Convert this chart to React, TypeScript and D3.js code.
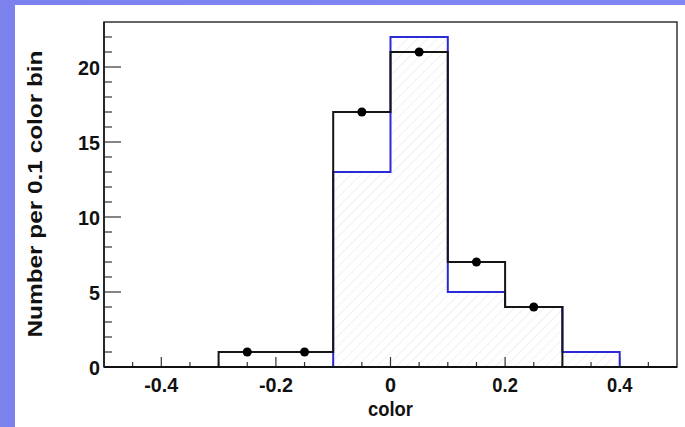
import React from "react";
import * as d3 from "d3";

const binEdges = [-0.5, -0.4, -0.3, -0.2, -0.1, 0, 0.1, 0.2, 0.3, 0.4, 0.5];
const dataCounts = [0, 0, 1, 1, 17, 21, 7, 4, 0, 0];
const modelCounts = [0, 0, 0, 0, 13, 22, 5, 4, 1, 0];
const pointX = [-0.25, -0.15, -0.05, 0.05, 0.15, 0.25];
const pointY = [1, 1, 17, 21, 7, 4];
const xTickLabels = [-0.4, -0.2, 0, 0.2, 0.4];
const yTickLabels = [0, 5, 10, 15, 20];

const W = 685, H = 427;
const L = 104, R = 677, T = 22, B = 367;

function stepPath(x: d3.ScaleLinear<number, number>, y: d3.ScaleLinear<number, number>, counts: number[], from: number, to: number) {
  let d = "";
  for (let i = from; i <= to; i++) {
    const c = counts[i];
    const x0 = x(binEdges[i]), x1 = x(binEdges[i + 1]);
    d += (i === from ? `M${x0},${y(0)}L${x0},${y(c)}` : `L${x0},${y(c)}`) + `L${x1},${y(c)}`;
  }
  d += `L${x(binEdges[to + 1])},${y(0)}`;
  return d;
}

export default function App() {
  const x = d3.scaleLinear().domain([-0.5, 0.5]).range([L, R]);
  const y = d3.scaleLinear().domain([0, 23]).range([B, T]);
  const font = "'Liberation Sans', Arial, sans-serif";

  const xTicks = d3.range(-0.45, 0.5, 0.05).map(v => Math.round(v * 100) / 100);
  const yTicks = d3.range(1, 23, 1);

  const blueArea = stepPath(x, y, modelCounts, 4, 8);
  const blueLine = stepPath(x, y, modelCounts, 2, 8);
  const blackLine = stepPath(x, y, dataCounts, 0, 9);

  return (
    <svg width={W} height={H} style={{ position: "absolute", left: 0, top: 0 }}>
      <defs>
        <pattern id="hatch" width="7" height="7" patternUnits="userSpaceOnUse" patternTransform="rotate(45)">
          <line x1="0" y1="0" x2="0" y2="7" stroke="#e3e6f1" strokeWidth="1.1" />
        </pattern>
        <linearGradient id="bg" x1="0" y1="0" x2="1" y2="0">
          <stop offset="0" stopColor="#7b82ee" />
          <stop offset="1" stopColor="#8187f2" />
        </linearGradient>
      </defs>
      <rect x={0} y={0} width={W} height={H} fill="url(#bg)" />
      <rect x={15} y={5} width={W - 15} height={H - 5} fill="#ffffff" />

      <path d={blueArea} fill="url(#hatch)" stroke="none" />

      {yTicks.map(t => (
        <line key={"yt" + t} x1={L} x2={L + (t % 5 === 0 ? 17 : 8)} y1={y(t)} y2={y(t)} stroke="#333" strokeWidth={1.2} />
      ))}
      {xTicks.map(t => {
        const major = Math.abs(Math.round(t * 100) % 20) === 0;
        return <line key={"xt" + t} x1={x(t)} x2={x(t)} y1={B} y2={B - (major ? 10 : 5)} stroke="#333" strokeWidth={1.2} />;
      })}

      <path d={blueLine} fill="none" stroke="#2a2ad6" strokeWidth={2} />
      <path d={blackLine} fill="none" stroke="#151515" strokeWidth={2} />

      {pointX.map((px, i) => (
        <circle key={"p" + i} cx={x(px)} cy={y(pointY[i])} r={4.5} fill="#000" />
      ))}

      <rect x={L} y={T} width={R - L} height={B - T} fill="none" stroke="#333" strokeWidth={1.5} />
      <line x1={L} x2={R} y1={B} y2={B} stroke="#111" strokeWidth={2.2} />
      <line x1={L} x2={L} y1={T} y2={B} stroke="#222" strokeWidth={1.8} />

      {yTickLabels.map(t => (
        <text key={"yl" + t} x={100} y={y(t)} dy="0.36em" textAnchor="end" fontFamily={font} fontWeight="bold" fontSize={21} fill="#111"
          textLength={String(t).length * 11} lengthAdjust="spacingAndGlyphs">{t}</text>
      ))}
      {xTickLabels.map(t => {
        const s = t === 0 ? "0" : d3.format(".1f")(t).replace("−", "-");
        return (
          <text key={"xl" + t} x={x(t)} y={392} textAnchor="middle" fontFamily={font} fontWeight="bold" fontSize={21} fill="#111"
            textLength={s.length === 1 ? 11 : s.length * 8.5} lengthAdjust="spacingAndGlyphs">{s}</text>
        );
      })}

      <text x={x(0)} y={416} textAnchor="middle" fontFamily={font} fontWeight="bold" fontSize={21} fill="#111"
        textLength={45} lengthAdjust="spacingAndGlyphs">color</text>
      <text transform={`translate(42,194) rotate(-90)`} textAnchor="middle" fontFamily={font} fontWeight="bold" fontSize={20} fill="#111"
        textLength={287} lengthAdjust="spacingAndGlyphs">Number per 0.1 color bin</text>
    </svg>
  );
}
